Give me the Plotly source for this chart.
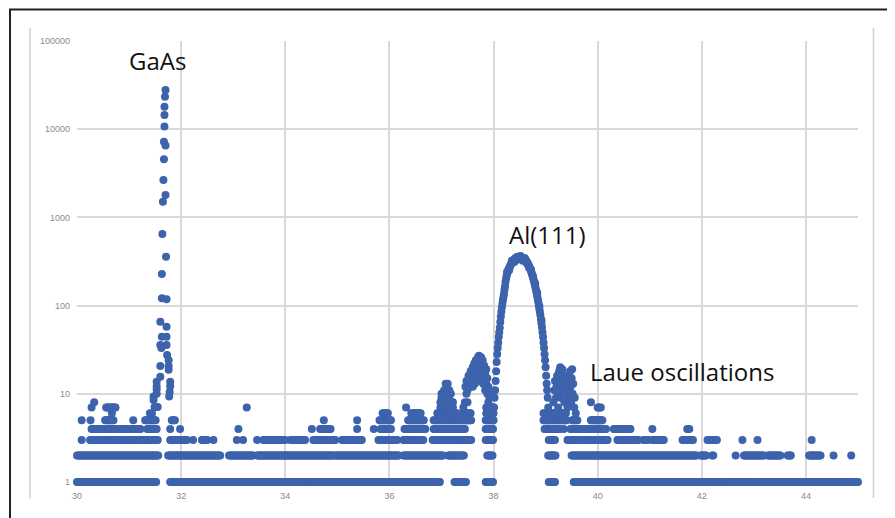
import numpy as np
import plotly.graph_objects as go

# ---------------- data ----------------
SCAN_STEP = 0.02  # 2-theta step used to draw horizontal runs of identical counts

# runs of points with the same integer count: (2theta start, 2theta end)
RUNS_1 = [(30.00, 31.52), (31.79, 36.98), (37.25, 37.48), (37.85, 38.00),
          (39.06, 39.19), (39.54, 45.00)]
RUNS_2 = [(30.00, 31.56), (31.75, 32.75), (32.92, 33.38), (33.46, 34.92),
          (34.96, 36.17), (36.27, 37.04), (37.13, 37.44), (37.88, 37.98),
          (39.05, 39.19), (39.50, 41.90), (41.98, 42.08), (42.20, 42.22),
          (42.65, 42.65), (42.81, 43.19), (43.27, 43.52), (43.65, 43.71),
          (44.06, 44.29), (44.53, 44.53), (44.87, 44.87)]
RUNS_3 = [(30.09, 30.09), (30.25, 31.56), (31.79, 32.11), (32.23, 32.23),
          (32.40, 32.50), (32.62, 32.62), (33.07, 33.07), (33.19, 33.19),
          (33.46, 33.46), (33.58, 34.00), (34.10, 34.38), (34.54, 34.96),
          (35.09, 35.47), (35.79, 36.15), (36.27, 36.65), (36.83, 37.56),
          (37.85, 38.00), (39.06, 39.19), (39.42, 39.67), (39.73, 40.19),
          (40.38, 40.79), (40.88, 40.96), (41.05, 41.27), (41.63, 41.83),
          (42.11, 42.28), (42.78, 42.78), (43.07, 43.07), (44.11, 44.11)]
RUNS_4 = [(30.28, 30.79), (30.85, 30.98), (31.04, 31.21), (31.35, 31.54),
          (31.79, 31.79), (31.98, 31.98), (33.10, 33.10), (34.51, 34.51),
          (34.67, 34.87), (35.38, 35.38), (35.70, 35.70), (35.83, 36.02),
          (36.29, 36.69), (36.85, 37.46), (37.85, 38.00), (38.98, 39.27),
          (39.35, 39.35), (39.48, 40.15), (40.31, 40.63), (41.05, 41.05),
          (41.72, 41.75)]
RUNS_5 = [(30.09, 30.09), (30.26, 30.26), (30.54, 30.69), (31.08, 31.08),
          (31.31, 31.50), (31.82, 31.88), (34.74, 34.74), (35.38, 35.38),
          (35.81, 36.04), (36.36, 36.66), (36.85, 37.56), (37.85, 38.00),
          (38.96, 39.40), (39.51, 39.61), (39.87, 40.09)]
RUNS_6 = [(30.67, 30.67), (31.40, 31.40), (35.87, 35.98), (36.42, 36.60),
          (36.92, 37.30), (37.42, 37.56), (37.86, 38.00), (38.96, 39.05),
          (39.10, 39.20), (39.25, 39.40)]
RUNS_7 = [(30.28, 30.28), (30.56, 30.74), (33.26, 33.26), (36.32, 36.32),
          (36.98, 37.23), (37.86, 38.00), (40.00, 40.06)]
RUNS_8 = [(30.33, 30.33), (36.98, 37.22), (39.87, 39.87)]
RUNS_9 = [(37.00, 37.15)]

# GaAs substrate peak (individual points)
GAAS_X = [31.44, 31.47, 31.47, 31.49, 31.53, 31.53, 31.53, 31.53, 31.55, 31.60,
          31.60, 31.60, 31.60, 31.62, 31.63, 31.63, 31.63, 31.64, 31.65, 31.66,
          31.67, 31.67, 31.68, 31.68, 31.68, 31.69, 31.70, 31.70, 31.70, 31.71,
          31.72, 31.72, 31.72, 31.72, 31.73, 31.76, 31.76, 31.76, 31.77, 31.79,
          31.79, 31.78]
GAAS_Y = [6, 8.5, 9.3, 7.1, 10, 11.2, 12.2, 13.7, 7.1, 15.6,
          20.6, 35.8, 65.7, 33, 44.4, 228, 121, 650, 1500, 2650,
          4560, 7200, 10700, 14500, 18000, 23300, 27800, 6550, 1800, 358,
          118, 57.6, 44.4, 35.8, 27.5, 24, 20.6, 18.7, 9.3, 13.7,
          12.2, 10.5]

# Al(111) film peak
AL_X = [round(38.00 + 0.01 * i, 2) for i in range(107)]
AL_Y = [5, 7, 9, 11, 14, 18, 23, 28, 33, 38,
        44, 50, 56, 65, 75, 85, 95, 105, 115, 125,
        135, 150, 165, 185, 200, 215, 228, 240, 250, 258,
        266, 274, 282, 290, 298, 305, 312, 318, 324, 330,
        335, 338, 342, 346, 350, 354, 356, 358, 357, 355,
        352, 350, 348, 346, 344, 342, 340, 338, 336, 334,
        332, 330, 326, 320, 313, 305, 298, 290, 282, 273,
        265, 256, 246, 236, 226, 216, 206, 196, 186, 176,
        166, 156, 146, 136, 127, 118, 110, 100, 92, 85,
        78, 70, 63, 57, 50, 44, 38, 33, 28, 24,
        20, 16, 13, 11, 9, 7, 5]
# scatter of counts around the Al(111) curve
AL_NOISE_X = [38.26, 38.30, 38.35, 38.40, 38.44, 38.48, 38.52, 38.56, 38.60,
              38.64, 38.68, 38.72, 38.76, 38.80, 38.84, 38.88, 38.92]
AL_NOISE_Y = [240, 252, 322, 312, 330, 336, 366, 322, 346,
              300, 270, 255, 214, 178, 140, 98, 68]

# shoulder / fringe clusters left of the Al peak
SHOULDER_X = [37.00, 37.02, 37.05, 37.08, 37.10, 37.12, 37.15, 37.18, 37.20,
              37.42, 37.45, 37.46, 37.48, 37.48, 37.50, 37.50, 37.52, 37.52,
              37.54, 37.55, 37.56, 37.58, 37.58, 37.60, 37.60, 37.62, 37.62,
              37.63, 37.64, 37.65, 37.66, 37.66, 37.68, 37.68, 37.69, 37.70,
              37.71, 37.72, 37.72, 37.74, 37.74, 37.75, 37.76, 37.77, 37.78,
              37.79, 37.80, 37.80, 37.82, 37.82, 37.84, 37.84, 37.86, 37.86,
              37.88, 37.88, 37.90, 37.90, 37.92, 37.94, 37.95]
SHOULDER_Y = [10, 8, 11, 13, 9, 13, 11, 10, 8,
              7, 8, 12, 10, 14, 11, 8, 13, 16,
              12, 15, 18, 14, 17, 12, 20, 15, 18,
              22, 13, 17, 20, 24, 15, 19, 22, 26,
              17, 21, 27, 14, 19, 23, 26, 16, 20,
              24, 13, 18, 15, 21, 11, 17, 13, 19,
              10, 15, 12, 8, 9, 7, 10]

# Laue oscillation cluster right of the Al peak
LAUE_X = [39.15, 39.17, 39.18, 39.20, 39.21, 39.22, 39.24, 39.24, 39.25, 39.26,
          39.27, 39.28, 39.29, 39.30, 39.30, 39.32, 39.33, 39.34, 39.35, 39.36,
          39.37, 39.38, 39.40, 39.41, 39.42, 39.43, 39.44, 39.45, 39.46, 39.47,
          39.48, 39.49, 39.50, 39.51, 39.52, 39.53, 39.55, 39.56, 39.58]
LAUE_Y = [8, 11, 14, 9, 12, 16, 7, 10, 13, 18,
          15, 20, 9, 12, 17, 19, 14, 10, 16, 8,
          12, 15, 10, 13, 7, 11, 16, 9, 14, 18,
          12, 8, 15, 19, 10, 13, 7, 9, 6]

X_TICKS = [30, 32, 34, 36, 38, 40, 42, 44]
Y_TICKS = [1, 10, 100, 1000, 10000, 100000]
Y_TICK_TEXT = ["1", "10", "100", "1000", "10000", "100000"]

LABELS = ["GaAs", "Al(111)", "Laue oscillations"]
LABEL_X = [31.54, 39.04, 41.62]
LABEL_Y = [60000, 640, 17.7]

# ---------------- build points ----------------
xs, ys = [], []
for level, runs in [(1, RUNS_1), (2, RUNS_2), (3, RUNS_3), (4, RUNS_4), (5, RUNS_5),
                    (6, RUNS_6), (7, RUNS_7), (8, RUNS_8), (9, RUNS_9)]:
    for a, b in runs:
        n = int(round((b - a) / SCAN_STEP))
        for i in range(n + 1):
            xs.append(round(a + SCAN_STEP * i, 3))
            ys.append(level)
for px_, py_ in [(GAAS_X, GAAS_Y), (AL_X, AL_Y), (AL_NOISE_X, AL_NOISE_Y),
                 (SHOULDER_X, SHOULDER_Y), (LAUE_X, LAUE_Y)]:
    xs.extend(px_)
    ys.extend(py_)

# page body has an 8px margin, so the figure is slightly smaller than the window
OFF = 8
W, H = 895 - OFF, 518 - OFF
ML, MR, MT, MB = 77 - OFF, 37, 41 - OFF, 36
PW, PH = W - ML - MR, H - MT - MB


def pxx(p):
    # page pixel x -> paper fraction
    return (p - OFF - ML) / PW


def pxy(p):
    # page pixel y -> paper fraction
    return (H - MB - (p - OFF)) / PH


fig = go.Figure()
fig.add_trace(go.Scatter(
    x=xs, y=ys, mode="markers",
    marker=dict(size=8, color="#3d63ad", line=dict(width=0)),
    cliponaxis=False, showlegend=False, hoverinfo="x+y",
))

for txt, lx, ly in zip(LABELS, LABEL_X, LABEL_Y):
    fig.add_annotation(x=lx, y=np.log10(ly), text=txt, showarrow=False,
                       font=dict(family="Open Sans", size=24, color="#111111"),
                       xanchor="center", yanchor="middle")

shapes = [
    dict(type="rect", xref="paper", yref="paper",
         x0=pxx(10), x1=pxx(888.5), y0=pxy(540), y1=pxy(9.5),
         line=dict(color="#222222", width=2), layer="below"),
    dict(type="line", xref="paper", yref="paper",
         x0=pxx(30), x1=pxx(30), y0=pxy(28), y1=pxy(499),
         line=dict(color="#d0d0d0", width=1.5)),
    dict(type="line", xref="paper", yref="paper",
         x0=pxx(873.5), x1=pxx(873.5), y0=pxy(28), y1=pxy(498),
         line=dict(color="#d0d0d0", width=1.5)),
]

fig.update_layout(
    width=W, height=H, autosize=False,
    margin=dict(l=ML, r=MR, t=MT, b=MB, pad=0),
    paper_bgcolor="white", plot_bgcolor="white",
    shapes=shapes,
    xaxis=dict(range=[30, 45], tickvals=X_TICKS, ticktext=[str(t) for t in X_TICKS],
               showgrid=True, gridcolor="#d9d9d9", gridwidth=1.5,
               zeroline=False, showline=False, ticks="",
               ticklabelstandoff=7,
               tickfont=dict(family="Liberation Sans", size=9, color="#8a8a8a")),
    yaxis=dict(type="log", range=[0, 5], tickvals=Y_TICKS, ticktext=Y_TICK_TEXT,
               showgrid=True, gridcolor="#d9d9d9", gridwidth=1.5,
               zeroline=False, showline=False, ticks="",
               ticklabelstandoff=6,
               tickfont=dict(family="Liberation Sans", size=9, color="#8a8a8a")),
)

fig.write_html("out.html")
